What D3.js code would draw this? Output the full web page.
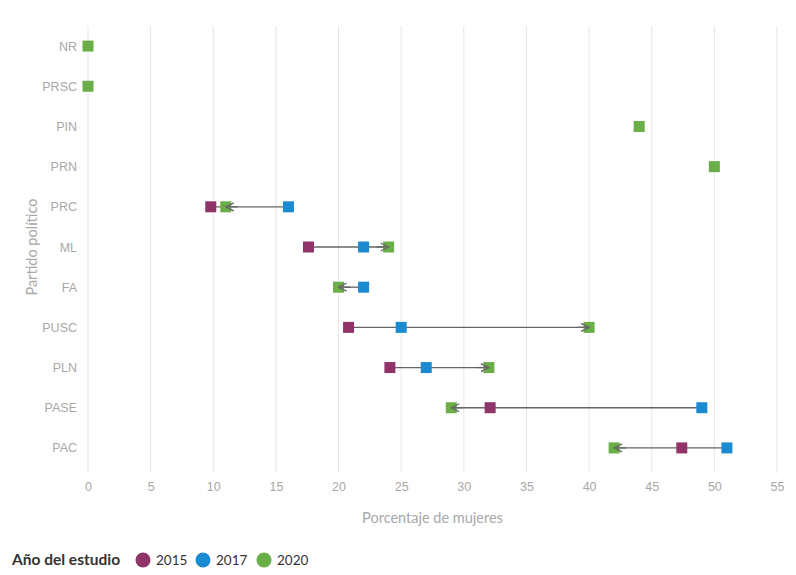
<!DOCTYPE html>
<html>
<head>
<meta charset="utf-8">
<script src="https://cdn.jsdelivr.net/npm/d3@7"></script>
<style>
  body { margin: 0; background: #fff; font-family: "Lato", "Open Sans", sans-serif; }
  .tick text { fill: #a8a8a8; font-size: 12.5px; }
  .axis-title { fill: #a8a8a8; font-size: 14.5px; }
</style>
</head>
<body>
<div id="chart"></div>
<script>
// Parties (top to bottom) and the share of women per study year
const parties = ["NR", "PRSC", "PIN", "PRN", "PRC", "ML", "FA", "PUSC", "PLN", "PASE", "PAC"];
const years = ["2015", "2017", "2020"];
const values2015 = [null, null, null, null, 9.8, 17.6, null, 20.8, 24.1, 32.1, 47.4];
const values2017 = [null, null, null, null, 16, 22, 22, 25, 27, 49, 51];
const values2020 = [0, 0, 44, 50, 11, 24, 20, 40, 32, 29, 42];
const xTicks = [0, 5, 10, 15, 20, 25, 30, 35, 40, 45, 50, 55];
const colors = ["#8f3368", "#1a8bd1", "#6aae47"];

const width = 796, height = 575;
const margin = { top: 26, right: 19, bottom: 108, left: 88 };
const innerW = width - margin.left - margin.right,
  innerH = 468 - margin.top;

const svg = d3.select("#chart")
  .append("svg")
  .attr("width", width)
  .attr("height", height);

const g = svg.append("g")
  .attr("transform", `translate(${margin.left},${margin.top})`);

const x = d3.scaleLinear().domain([0, 55]).range([0, innerW]);
const y = d3.scalePoint().domain(parties).range([0, innerH]).padding(0.5);

// Arrow marker
svg.append("defs").append("marker")
  .attr("id", "arrow")
  .attr("viewBox", "0 0 10 10")
  .attr("refX", 9)
  .attr("refY", 5)
  .attr("markerWidth", 10)
  .attr("markerHeight", 10)
  .attr("markerUnits", "userSpaceOnUse")
  .attr("orient", "auto")
  .append("path")
  .attr("d", "M1,1 L9,5 L1,9")
  .attr("fill", "none")
  .attr("stroke", "#666")
  .attr("stroke-width", 1.3);

// Vertical gridlines
g.selectAll(".grid")
  .data(xTicks)
  .enter()
  .append("line")
  .attr("class", "grid")
  .attr("x1", d => x(d))
  .attr("x2", d => x(d))
  .attr("y1", 0)
  .attr("y2", innerH + 5)
  .attr("stroke", "#e6e6e6")
  .attr("stroke-width", 1);

// X axis
const xAxis = g.append("g")
  .attr("transform", `translate(0,${innerH + 8})`)
  .call(d3.axisBottom(x).tickValues(xTicks).tickSize(0).tickPadding(6));
xAxis.select(".domain").remove();

// Y axis
const yAxis = g.append("g")
  .call(d3.axisLeft(y).tickSize(7).tickPadding(4));
yAxis.select(".domain").remove();
yAxis.selectAll(".tick line").attr("stroke", "#e6e6e6").attr("x2", -1);

// Axis titles
svg.append("text")
  .attr("class", "axis-title")
  .attr("x", margin.left + innerW / 2)
  .attr("y", 523)
  .attr("text-anchor", "middle")
  .text("Porcentaje de mujeres");

svg.append("text")
  .attr("class", "axis-title")
  .attr("transform", "rotate(-90)")
  .attr("x", -(margin.top + innerH / 2))
  .attr("y", 37)
  .attr("text-anchor", "middle")
  .text("Partido político");

// Build rows
const rows = parties.map((p, i) => ({
  party: p,
  vals: [values2015[i], values2017[i], values2020[i]]
}));

// Connecting paths 2015 -> 2017 -> 2020
const line = d3.line().x(d => x(d[0])).y(d => d[1]);
rows.forEach(r => {
  const pts = r.vals.filter(v => v !== null).map(v => [v, y(r.party)]);
  if (pts.length < 2) return;
  g.append("path")
    .attr("d", line(pts))
    .attr("fill", "none")
    .attr("stroke", "#666")
    .attr("stroke-width", 1.3);
});

// Squares
const sq = 11;
years.forEach((yr, k) => {
  g.selectAll(".sq-" + yr)
    .data(rows.filter(r => r.vals[k] !== null))
    .enter()
    .append("rect")
    .attr("class", "sq-" + yr)
    .attr("x", d => x(d.vals[k]) - sq / 2)
    .attr("y", d => y(d.party) - sq / 2)
    .attr("width", sq)
    .attr("height", sq)
    .attr("fill", colors[k]);
});

// Arrow heads drawn over the squares, plus the line stub inside the last square
rows.forEach(r => {
  const pts = r.vals.filter(v => v !== null).map(v => [v, y(r.party)]);
  if (pts.length < 2) return;
  const last = pts.slice(-2);
  const dir = Math.sign(last[1][0] - last[0][0]);
  const stub = [[last[1][0] - dir * 12 / (innerW / 55), last[1][1]], last[1]];
  g.append("path")
    .attr("d", line(stub))
    .attr("fill", "none")
    .attr("stroke", "#666")
    .attr("stroke-width", 1.3)
    .attr("marker-end", "url(#arrow)");
});

// Legend
const legend = svg.append("g").attr("transform", "translate(12,560)");
legend.append("text")
  .attr("x", 0)
  .attr("y", 5)
  .attr("font-size", 15.5)
  .attr("font-weight", "bold")
  .attr("fill", "#333")
  .text("Año del estudio");

const legendX = [143, 203, 264];
years.forEach((yr, k) => {
  legend.append("circle")
    .attr("cx", legendX[k] - 12)
    .attr("cy", 0)
    .attr("r", 7.5)
    .attr("fill", colors[k]);
  legend.append("text")
    .attr("x", legendX[k] + 1)
    .attr("y", 5)
    .attr("font-size", 13.5)
    .attr("fill", "#333")
    .text(yr);
});
</script>
</body>
</html>
